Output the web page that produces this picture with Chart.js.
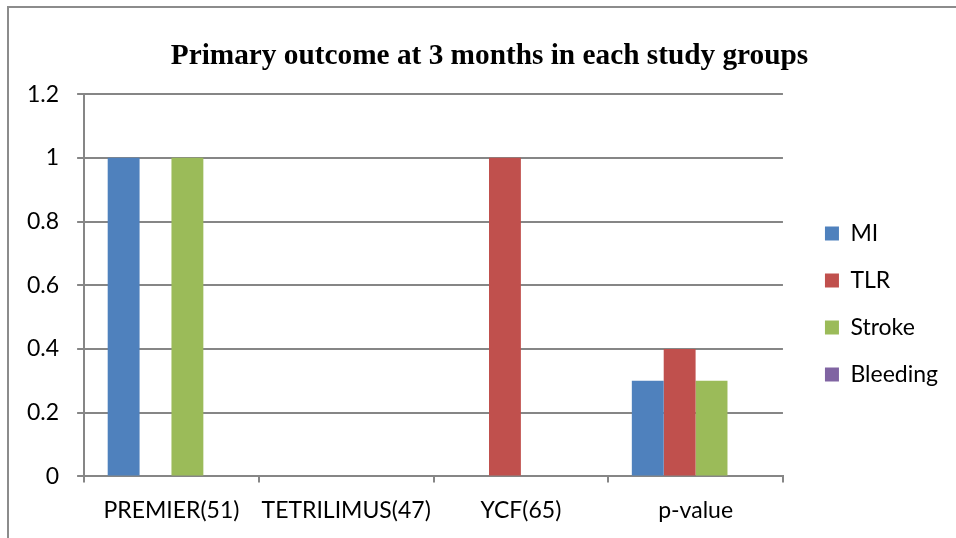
<!DOCTYPE html>
<html>
<head>
<meta charset="utf-8">
<script src="https://cdn.jsdelivr.net/npm/chart.js@4/dist/chart.umd.min.js"></script>
<style>
  html, body { margin: 0; padding: 0; background: #fff; }
  #wrap { position: relative; width: 956px; height: 538px; overflow: hidden; }
  #frame { position: absolute; left: 7px; top: 6px; width: 1000px; height: 600px; border: 2px solid #8c8c8c; box-sizing: border-box; }
  canvas { position: absolute; left: 0; top: 0; }
</style>
</head>
<body>
<div id="wrap">
  <div id="frame"></div>
  <canvas id="chart" width="956" height="538"></canvas>
</div>
<script>
// chart data
const groups = ['PREMIER(51)', 'TETRILIMUS(47)', 'YCF(65)', 'p-value'];
const mi = [1, 0, 0, 0.3];
const tlr = [0, 0, 1, 0.4];
const stroke = [1, 0, 0, 0.3];
const bleeding = [0, 0, 0, 0];
const yTicks = [0, 0.2, 0.4, 0.6, 0.8, 1, 1.2];

const axisFont = { family: 'Lato, "Liberation Sans", sans-serif', size: 23 };

function series(label, data, color) {
    return {
        label: label,
        data: data,
        backgroundColor: color,
        borderWidth: 0,
        barPercentage: 1,
        categoryPercentage: 0.73
    };
}

new Chart(document.getElementById('chart').getContext('2d'), {
    type: 'bar',
    data: {
        labels: groups,
        datasets: [
            series('MI', mi, '#4f81bd'),
            series('TLR', tlr, '#c0504d'),
            series('Stroke', stroke, '#9bbb59'),
            series('Bleeding', bleeding, '#8064a2')
        ]
    },
    options: {
        responsive: false,
        animation: false,
        layout: { padding: { left: 9, right: 8, top: 39, bottom: 0 } },
        plugins: {
            title: {
                display: true,
                // leading spaces nudge the centred title a bit to the right
                text: '   Primary outcome at 3 months in each study groups',
                color: '#000',
                font: { family: '"Liberation Serif", "Times New Roman", serif', size: 29.3, weight: 'bold' },
                padding: { top: 0, bottom: 20 }
            },
            legend: {
                position: 'right',
                title: { display: true, text: ' ', font: { size: 10 }, padding: { top: 0, bottom: 19 } },
                labels: {
                    color: '#000',
                    font: axisFont,
                    boxWidth: 14,
                    boxHeight: 14,
                    padding: 24
                }
            },
            tooltip: { enabled: false }
        },
        scales: {
            x: {
                grid: { drawOnChartArea: false, drawTicks: true, tickLength: 6, color: '#868686', lineWidth: 2, offset: true },
                border: { color: '#868686', width: 2 },
                ticks: { color: '#000', font: axisFont, padding: 14, maxRotation: 0 }
            },
            y: {
                min: 0,
                max: 1.2,
                afterBuildTicks: axis => { axis.ticks = yTicks.map(v => ({ value: v })); },
                grid: { color: '#868686', lineWidth: 2, tickLength: 7 },
                border: { color: '#868686', width: 2 },
                ticks: { color: '#000', font: axisFont, padding: 18, callback: v => String(Math.round(v * 10) / 10) }
            },
            // empty spacer between plot and legend
            gap: {
                type: 'linear',
                position: 'right',
                grid: { display: false },
                border: { display: false },
                ticks: { display: false },
                afterFit: scale => { scale.width = 18; }
            }
        }
    }
});
</script>
</body>
</html>
